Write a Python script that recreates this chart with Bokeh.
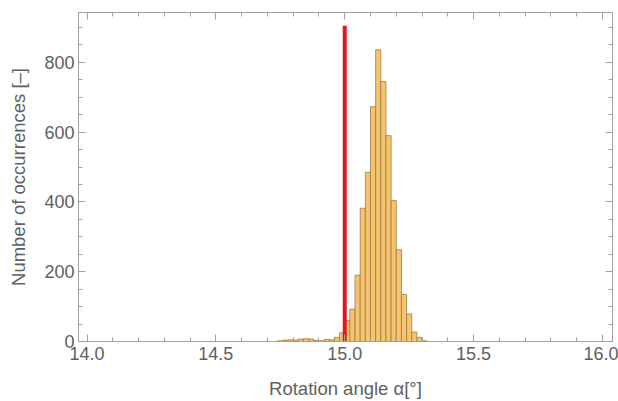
from bokeh.plotting import figure
from bokeh.models import (LinearAxis, FixedTicker, PrintfTickFormatter, ColumnDataSource,
                          CustomLabelingPolicy)
from bokeh.embed import file_html
from bokeh.resources import INLINE

# ---- data ----
bin_left = [14.74, 14.76, 14.78, 14.80, 14.82, 14.84, 14.86, 14.88, 14.90, 14.92,
            14.94, 14.96, 14.98, 15.00, 15.02, 15.04, 15.06, 15.08, 15.10, 15.12,
            15.14, 15.16, 15.18, 15.20, 15.22, 15.24, 15.26, 15.28, 15.30]
bin_width = 0.02
counts = [2, 4, 5, 4, 7, 8, 7, 3, 2, 6,
          5, 12, 25, 60, 93, 190, 382, 485, 673, 836,
          745, 590, 404, 263, 135, 79, 27, 12, 2]
ref_angle = 15.0
ref_line_top = 905
x_ticks = [14.0, 14.5, 15.0, 15.5, 16.0]
y_ticks = [0, 200, 400, 600, 800]
x_label = "Rotation angle α[°]"
y_label = "Number of occurrences [–]"

src = ColumnDataSource(dict(
    left=bin_left,
    right=[b + bin_width for b in bin_left],
    top=counts,
    bottom=[0] * len(counts),
))

FONT = "Liberation Sans"
GRAY = "#a0a0a0"
TXT = "#606060"

p = figure(width=618, height=401, x_range=(13.967, 16.039), y_range=(0, 943),
           output_backend="svg", toolbar_location=None,
           min_border_left=78, min_border_right=6, min_border_top=12, min_border_bottom=60)
p.xaxis.visible = False
p.yaxis.visible = False
p.xgrid.grid_line_color = None
p.ygrid.grid_line_color = None
p.outline_line_color = GRAY
p.background_fill_color = "white"
p.border_fill_color = "white"

x_minor = [round(14.0 + 0.1 * i, 2) for i in range(21)]
y_minor = [50 * i for i in range(19)]


def style(ax, labels=True):
    ax.axis_line_color = GRAY
    ax.major_tick_line_color = GRAY
    ax.minor_tick_line_color = GRAY
    ax.major_tick_in = 7
    ax.major_tick_out = 0
    ax.minor_tick_in = 4
    ax.minor_tick_out = 0
    ax.major_label_text_font = FONT
    ax.major_label_text_color = TXT
    ax.axis_label_text_font = FONT
    ax.axis_label_text_color = TXT
    ax.axis_label_text_font_style = "normal"
    ax.major_label_text_font_size = "18px"
    ax.axis_label_text_font_size = "18.5px"
    if not labels:
        ax.major_label_policy = CustomLabelingPolicy(code="")
        ax.major_label_text_font_size = "0px"
        ax.major_label_standoff = 0


bx = LinearAxis(ticker=FixedTicker(ticks=x_ticks, minor_ticks=x_minor),
                formatter=PrintfTickFormatter(format="%.1f"), axis_label=x_label)
style(bx)
bx.major_label_standoff = 5
bx.axis_label_standoff = 15
p.add_layout(bx, "below")

tx = LinearAxis(ticker=FixedTicker(ticks=x_ticks, minor_ticks=x_minor))
style(tx, labels=False)
p.add_layout(tx, "above")

ly = LinearAxis(ticker=FixedTicker(ticks=y_ticks, minor_ticks=y_minor), axis_label=y_label)
style(ly)
ly.major_label_text_align = "right"
ly.major_label_text_baseline = "middle"
ly.major_label_standoff = 4
ly.axis_label_standoff = 12
p.add_layout(ly, "left")

ry = LinearAxis(ticker=FixedTicker(ticks=y_ticks, minor_ticks=y_minor))
style(ry, labels=False)
p.add_layout(ry, "right")

p.quad(left="left", right="right", top="top", bottom="bottom", source=src,
       fill_color="#f6c46c", line_color="#9c7b46", line_width=0.8)

p.segment(x0=[ref_angle], y0=[0], x1=[ref_angle], y1=[ref_line_top],
          line_color="#e0161f", line_width=4)

open("out.html", "w").write(file_html(p, INLINE))
